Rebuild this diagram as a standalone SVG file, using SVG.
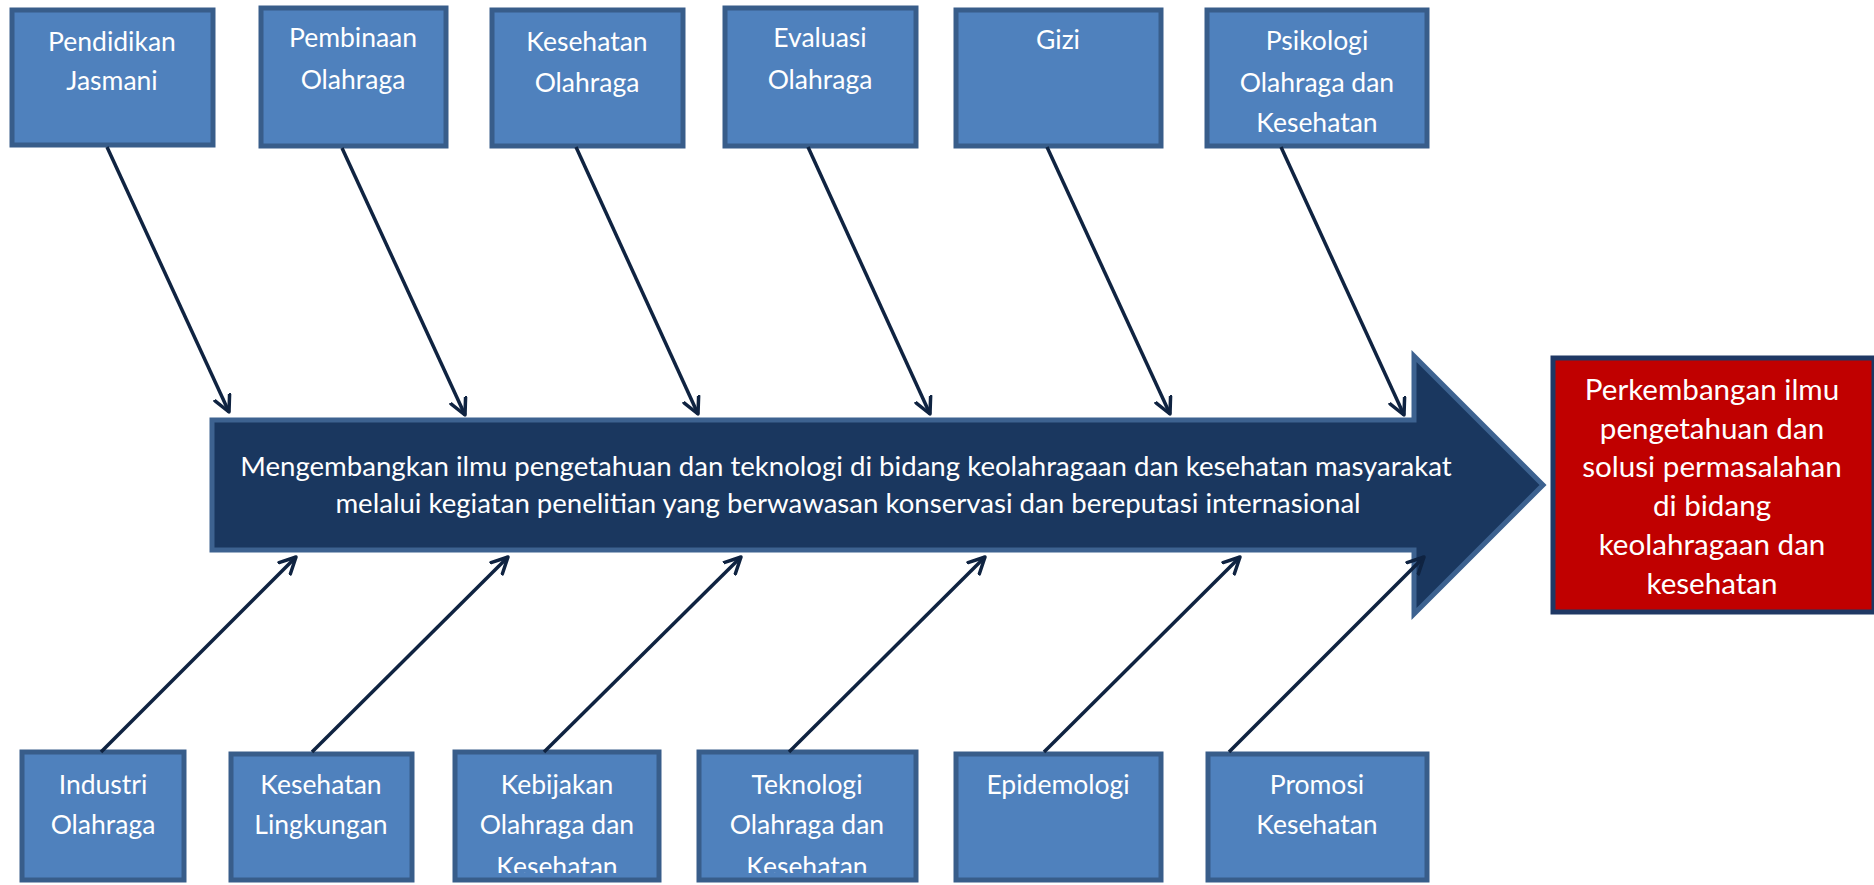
<svg xmlns="http://www.w3.org/2000/svg" width="1874" height="885" viewBox="0 0 1874 885">
<style>
.box{fill:#4f81bd;stroke:#385d8a;stroke-width:5}
.t{font-family:Lato,"Liberation Sans",sans-serif;font-size:26.5px;fill:#ffffff;text-anchor:middle}
.mt{font-family:Lato,"Liberation Sans",sans-serif;font-size:27.6px;fill:#ffffff;text-anchor:middle}
.rt{font-family:Lato,"Liberation Sans",sans-serif;font-size:29.6px;fill:#ffffff;text-anchor:middle}
.con{stroke:#0f2341;stroke-width:3.5;fill:none;marker-end:url(#ah)}
</style>
<defs>
<marker id="ah" viewBox="0 0 20 20" refX="17" refY="10" markerWidth="20" markerHeight="20" markerUnits="userSpaceOnUse" orient="auto">
<path d="M1,2 L17,10 L1,18" fill="none" stroke="#0f2341" stroke-width="3.5" stroke-linecap="round" stroke-linejoin="round"/>
</marker>
<clipPath id="clipB"><rect x="0" y="740" width="1874" height="133"/></clipPath>
</defs>
<rect width="1874" height="885" fill="#ffffff"/>

<g id="main-arrow">
<path d="M212,420 L1414,420 L1414,356 L1543,485 L1414,614 L1414,550 L212,550 Z" fill="#1a375f" stroke="#3d6290" stroke-width="5"/>
<text class="mt" x="846" y="476">Mengembangkan ilmu pengetahuan dan teknologi di bidang keolahragaan dan kesehatan masyarakat</text>
<text class="mt" x="848" y="513">melalui kegiatan penelitian yang berwawasan konservasi dan bereputasi internasional</text>
</g>

<g id="result">
<rect x="1553" y="358" width="321" height="254" fill="#c00000" stroke="#1f3864" stroke-width="5"/>
<text class="rt" x="1712" y="400">Perkembangan ilmu</text>
<text class="rt" x="1712" y="439">pengetahuan dan</text>
<text class="rt" x="1712" y="477">solusi permasalahan</text>
<text class="rt" x="1712" y="516">di bidang</text>
<text class="rt" x="1712" y="555">keolahragaan dan</text>
<text class="rt" x="1712" y="594">kesehatan</text>
</g>

<g id="top-1"><rect class="box" x="12" y="10" width="201" height="135"/>
<text class="t" x="112" y="51">Pendidikan</text><text class="t" x="112" y="90">Jasmani</text></g>
<g id="top-2"><rect class="box" x="261" y="8" width="185" height="138"/>
<text class="t" x="353" y="47">Pembinaan</text><text class="t" x="353" y="89">Olahraga</text></g>
<g id="top-3"><rect class="box" x="492" y="10" width="191" height="136"/>
<text class="t" x="587" y="51">Kesehatan</text><text class="t" x="587" y="92">Olahraga</text></g>
<g id="top-4"><rect class="box" x="725" y="8" width="191" height="138"/>
<text class="t" x="820" y="47">Evaluasi</text><text class="t" x="820" y="89">Olahraga</text></g>
<g id="top-5"><rect class="box" x="956" y="10" width="205" height="136"/>
<text class="t" x="1058" y="49">Gizi</text></g>
<g id="top-6"><rect class="box" x="1207" y="10" width="220" height="136"/>
<text class="t" x="1317" y="50">Psikologi</text><text class="t" x="1317" y="92">Olahraga dan</text><text class="t" x="1317" y="132">Kesehatan</text></g>

<g id="bottom-1"><rect class="box" x="22" y="752" width="162" height="128"/>
<text class="t" x="103" y="794">Industri</text><text class="t" x="103" y="834">Olahraga</text></g>
<g id="bottom-2"><rect class="box" x="231" y="754" width="181" height="126"/>
<text class="t" x="321" y="794">Kesehatan</text><text class="t" x="321" y="834">Lingkungan</text></g>
<g id="bottom-3"><rect class="box" x="455" y="752" width="204" height="128"/>
<text class="t" x="557" y="794">Kebijakan</text><text class="t" x="557" y="834">Olahraga dan</text><text class="t" x="557" y="876" clip-path="url(#clipB)">Kesehatan</text></g>
<g id="bottom-4"><rect class="box" x="699" y="752" width="217" height="128"/>
<text class="t" x="807" y="794">Teknologi</text><text class="t" x="807" y="834">Olahraga dan</text><text class="t" x="807" y="876" clip-path="url(#clipB)">Kesehatan</text></g>
<g id="bottom-5"><rect class="box" x="956" y="754" width="205" height="126"/>
<text class="t" x="1058" y="794">Epidemologi</text></g>
<g id="bottom-6"><rect class="box" x="1208" y="754" width="219" height="126"/>
<text class="t" x="1317" y="794">Promosi</text><text class="t" x="1317" y="834">Kesehatan</text></g>

<g id="connectors">
<line class="con" x1="107" y1="147" x2="229" y2="412"/>
<line class="con" x1="342" y1="148" x2="465" y2="415"/>
<line class="con" x1="576" y1="147" x2="698" y2="414"/>
<line class="con" x1="808" y1="147" x2="930" y2="414"/>
<line class="con" x1="1047" y1="147" x2="1170" y2="414"/>
<line class="con" x1="1281" y1="147" x2="1404" y2="415"/>
<line class="con" x1="101" y1="752" x2="296" y2="557"/>
<line class="con" x1="312" y1="752" x2="508" y2="557"/>
<line class="con" x1="544" y1="752" x2="741" y2="557"/>
<line class="con" x1="789" y1="752" x2="985" y2="557"/>
<line class="con" x1="1044" y1="752" x2="1240" y2="557"/>
<line class="con" x1="1229" y1="752" x2="1424" y2="557"/>
</g>
</svg>
